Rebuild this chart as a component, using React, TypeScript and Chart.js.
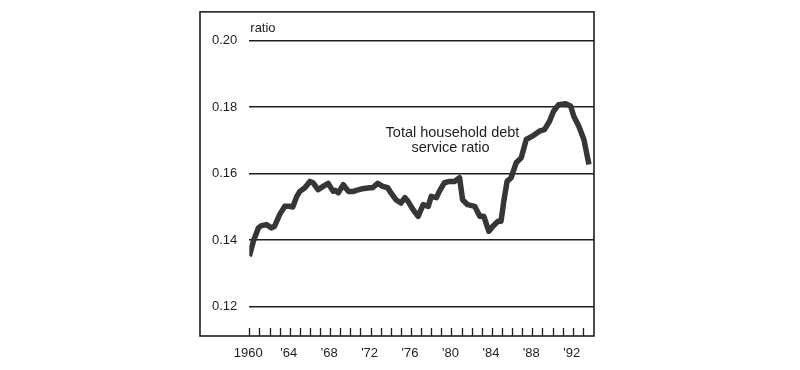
import React, { useEffect, useRef } from "react";
import { Chart, registerables } from "chart.js";

Chart.register(...registerables);

// decimal years and ratio values
const years: number[] = [
  1960.0, 1960.4, 1960.9, 1961.2, 1961.7, 1962.2, 1962.5, 1963.0, 1963.5, 1964.0,
  1964.3, 1964.7, 1965.0, 1965.5, 1966.0, 1966.3, 1966.8, 1967.3, 1967.8, 1968.3,
  1968.5, 1968.8, 1969.3, 1969.8, 1970.3, 1970.6, 1971.2, 1971.9, 1972.2, 1972.7,
  1973.2, 1973.7, 1974.0, 1974.5, 1975.0, 1975.4, 1975.7, 1976.2, 1976.7, 1977.2,
  1977.7, 1978.0, 1978.5, 1978.8, 1979.3, 1979.8, 1980.3, 1980.8, 1981.1, 1981.6,
  1982.3, 1982.8, 1983.2, 1983.7, 1984.1, 1984.6, 1984.9, 1985.2, 1985.5, 1985.9,
  1986.4, 1986.9, 1987.4, 1988.0, 1988.7, 1989.2, 1989.7, 1990.1, 1990.6, 1991.3,
  1991.8, 1992.1, 1992.6, 1993.1, 1993.4, 1993.6,
];
const debtRatio: number[] = [
  0.1352, 0.1397, 0.1437, 0.1444, 0.1447, 0.1437, 0.1442, 0.1477, 0.1502, 0.1502,
  0.1500, 0.1532, 0.1547, 0.1558, 0.1577, 0.1573, 0.1552, 0.1562, 0.1571, 0.1547,
  0.1550, 0.1543, 0.1567, 0.1547, 0.1547, 0.1550, 0.1555, 0.1558, 0.1558, 0.1571,
  0.1562, 0.1558, 0.1543, 0.1522, 0.1512, 0.1528, 0.1517, 0.1492, 0.1472, 0.1507,
  0.1502, 0.1532, 0.1528, 0.1547, 0.1573, 0.1577, 0.1577, 0.1588, 0.1522, 0.1507,
  0.1502, 0.1472, 0.1472, 0.1427, 0.1442, 0.1457, 0.1457, 0.1522, 0.1577, 0.1588,
  0.1633, 0.1648, 0.1703, 0.1713, 0.1728, 0.1733, 0.1758, 0.1788, 0.1808, 0.1811,
  0.1803, 0.1773, 0.1743, 0.1703, 0.1658, 0.1628,
];

const tickYears: number[] = Array.from({ length: 34 }, (_, i) => 1960 + i);
const labelYears: number[] = [1960, 1964, 1968, 1972, 1976, 1980, 1984, 1988, 1992];
const yTicks: number[] = [0.12, 0.14, 0.16, 0.18, 0.2];
const frameTopValue = 0.2087;
const unitLabel = "ratio";
const seriesLabel: string[] = ["Total household debt", "service ratio"];

const INK = "#1e1e1e";
const FONT = "'Liberation Sans', Arial, sans-serif";

const framePlugin = {
  id: "frame",
  afterDraw(chart: any) {
    const { ctx, chartArea, scales } = chart;
    const x = scales.x;
    const y = scales.y;
    const top = y.getPixelForValue(frameTopValue);
    ctx.save();
    // frame
    ctx.strokeStyle = INK;
    ctx.lineWidth = 1.6;
    ctx.strokeRect(200, top, chartArea.right - 200, chartArea.bottom - top);
    // year ticks inside the bottom
    ctx.lineWidth = 1.3;
    ctx.beginPath();
    for (const yr of tickYears) {
      const px = Math.round(x.getPixelForValue(yr)) + 0.5;
      ctx.moveTo(px, chartArea.bottom);
      ctx.lineTo(px, chartArea.bottom - 8);
    }
    ctx.stroke();
    // unit label
    ctx.fillStyle = INK;
    ctx.font = `13px ${FONT}`;
    ctx.textAlign = "left";
    ctx.textBaseline = "middle";
    ctx.fillText(unitLabel, chartArea.left + 1, y.getPixelForValue(0.2036));
    // series annotation
    ctx.font = `14.5px ${FONT}`;
    ctx.textAlign = "center";
    const ax = x.getPixelForValue(1980.1);
    const ay = y.getPixelForValue(0.1724);
    ctx.fillText(seriesLabel[0], ax, ay);
    ctx.fillText(seriesLabel[1], ax - 2, ay + 15);
    ctx.restore();
  },
};

export default function App() {
  const ref = useRef<HTMLCanvasElement>(null);
  useEffect(() => {
    if (!ref.current) return;
    const chart = new Chart(ref.current, {
      type: "line",
      data: {
        datasets: [
          {
            data: years.map((yr, i) => ({ x: yr, y: debtRatio[i] })),
            borderColor: "#363636",
            borderWidth: 5.5,
            borderJoinStyle: "round",
            borderCapStyle: "butt",
            pointRadius: 0,
            tension: 0,
            fill: false,
          },
        ],
      },
      options: {
        responsive: false,
        animation: false,
        layout: { padding: { left: 200, right: 206, top: 4, bottom: 0 } },
        plugins: { legend: { display: false }, tooltip: { enabled: false } },
        scales: {
          x: {
            type: "linear",
            min: 1960,
            max: 1994.1,
            afterBuildTicks: (s: any) => {
              s.ticks = tickYears.map((v) => ({ value: v }));
            },
            afterFit: (s: any) => {
              s.height = 34;
            },
            grid: { display: false },
            border: { display: false },
            ticks: {
              autoSkip: false,
              maxRotation: 0,
              padding: 2,
              labelOffset: -1,
              color: INK,
              font: { size: 13, family: FONT },
              callback: (v: any) => {
                const n = Number(v);
                if (!labelYears.includes(n)) return "";
                return n === 1960 ? "1960" : "'" + String(n).slice(2);
              },
            },
          },
          y: {
            type: "linear",
            min: 0.11119,
            max: 0.20632,
            afterBuildTicks: (s: any) => {
              s.ticks = yTicks.map((v) => ({ value: v }));
            },
            afterFit: (s: any) => {
              s.width = 49.3;
            },
            grid: { color: INK, lineWidth: 1.6, drawTicks: false },
            border: { display: false },
            ticks: {
              padding: 12,
              color: INK,
              font: { size: 13, family: FONT },
              callback: (v: any) => Number(v).toFixed(2),
            },
          },
        },
      },
      plugins: [framePlugin],
    } as any);
    return () => chart.destroy();
  }, []);
  return (
    <div style={{ position: "fixed", left: 0, top: 0, width: 800, height: 370, background: "#fff" }}>
      <canvas ref={ref} width={800} height={370} />
    </div>
  );
}
